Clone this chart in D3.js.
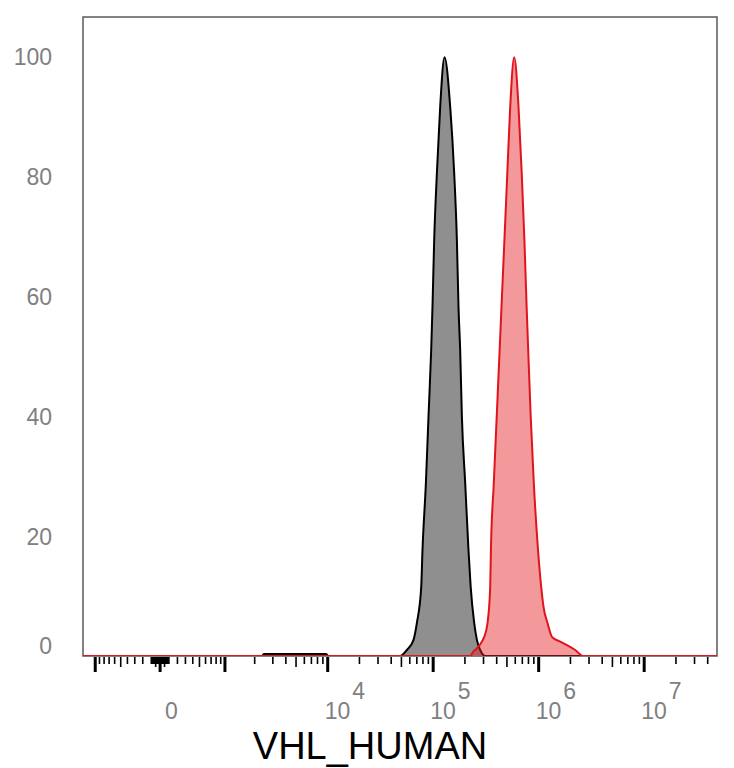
<!DOCTYPE html>
<html>
<head>
<meta charset="utf-8">
<script src="https://cdn.jsdelivr.net/npm/d3@7"></script>
<style>
  html, body { margin: 0; padding: 0; background: #fff; }
  svg { display: block; font-family: "Liberation Sans", Arial, sans-serif; }
</style>
</head>
<body>
<div id="chart"></div>
<script>
"use strict";

/*
 * ============================================================================
 * Data (fluorescence intensity vs % of max)
 * ============================================================================
 */

const AXIS_TITLE = "VHL_HUMAN";

// control (gray)
const grayIntensity = [-1340, 2350, 2470, 9700, 10100, 48600, 56300, 65100, 70000, 77000,
    79200, 85300, 90300, 95700, 98500, 102200, 108400, 116500, 128000, 145000,
    158200, 167800, 173800, 180300, 187100, 201100, 216100, 226800, 244900, 259700,
    279100, 311300, 4.9e7];
const grayPercent = [0, 0, 0.35, 0.35, 0, 0, 1, 2.7, 5.5, 11.5,
    17.7, 28.9, 40, 51, 58.3, 69.4, 80.6, 91.7, 100, 91.7,
    80.6, 69.4, 58.3, 51, 40, 28.9, 17.7, 11.5, 5.5, 2.7,
    1, 0, 0];

// VHL stained (red)
const redIntensity = [-1340, 224300, 239500, 250200, 296000, 304500, 327300, 347100, 352500, 375500,
    400200, 426300, 444200, 473300, 504200, 537200, 586300, 644000, 690700, 732600,
    768700, 795900, 840400, 899000, 985600, 1057000, 1111500, 1213000, 1335000, 1600000,
    1853000, 2221000, 2644000, 4.9e7];
const redPercent = [0, 0, 0.7, 1, 2.7, 3.2, 5.5, 11.5, 17.7, 28.9,
    40, 51, 58.3, 69.4, 80.6, 91.7, 100, 91.7, 80.6, 69.4,
    58.3, 51, 40, 28.9, 17.7, 11.5, 8.2, 5.5, 3.2, 2.4,
    1.8, 1, 0, 0];

// axis ticks and labels
const yTicks = [0, 20, 40, 60, 80, 100];
const xMajorTicks = [-1000, 0, 1000, 1e4, 1e5, 1e6, 1e7];
const xLabelValues = [0, 1e4, 1e5, 1e6, 1e7];
const xLabelBase = ["0", "10", "10", "10", "10"];
const xLabelExp = ["", "4", "5", "6", "7"];


/*
 * ============================================================================
 * Scales
 * ============================================================================
 */

const LEFT = 83, RIGHT = 717, TOP = 17, BOTTOM = 656;
const X_MIN = -1340, X_MAX = 4.9e7;
const BIEX_C = 516;

const biex = v => Math.asinh(v / BIEX_C);
const xLin = d3.scaleLinear()
    .domain([biex(X_MIN), biex(X_MAX)])
    .range([LEFT, RIGHT]);
const x = v => xLin(biex(v));

const y = d3.scaleLinear()
    .domain([0, 106.7])
    .range([BOTTOM, TOP]);

// minor ticks: 1..9 x 10^1, 10^2 near zero, 2..9 x each decade above
function minorTicks() {
    const out = [];
    [10, 100].forEach(d => {
        for (let m = 1; m <= 9; m++) { out.push(m * d); out.push(-m * d); }
    });
    [1e3, 1e4, 1e5, 1e6, 1e7].forEach(d => {
        for (let m = 2; m <= 9; m++) {
            if (m * d <= X_MAX) out.push(m * d);
        }
    });
    return out;
}


/*
 * ============================================================================
 * Draw
 * ============================================================================
 */

const svg = d3.select("#chart")
  .append("svg")
    .attr("width", 734)
    .attr("height", 768);

svg.append("defs")
  .append("clipPath")
    .attr("id", "plot-clip")
  .append("rect")
    .attr("x", LEFT)
    .attr("y", TOP)
    .attr("width", RIGHT - LEFT)
    .attr("height", BOTTOM - TOP);

// frame
svg.append("rect")
    .attr("x", LEFT)
    .attr("y", TOP)
    .attr("width", RIGHT - LEFT)
    .attr("height", BOTTOM - TOP)
    .attr("fill", "none")
    .attr("stroke", "#5a5a5a")
    .attr("stroke-width", 1.5);

// histograms
const area = d3.area()
    .x(d => x(d[0]))
    .y0(y(0))
    .y1(d => y(d[1]))
    .curve(d3.curveMonotoneX);

const line = d3.line()
    .x(d => x(d[0]))
    .y(d => y(d[1]))
    .curve(d3.curveMonotoneX);

const plot = svg.append("g").attr("clip-path", "url(#plot-clip)");

const grayData = d3.zip(grayIntensity, grayPercent);
const redData = d3.zip(redIntensity, redPercent);

plot.append("path")
    .datum(grayData)
    .attr("d", area)
    .attr("fill", "#8f8f8f");
plot.append("path")
    .datum(grayData)
    .attr("d", line)
    .attr("fill", "none")
    .attr("stroke", "#000")
    .attr("stroke-width", 2);

plot.append("path")
    .datum(redData)
    .attr("d", area)
    .attr("fill", "rgb(228, 30, 36)")
    .attr("fill-opacity", 0.46);
plot.append("path")
    .datum(redData)
    .attr("d", line)
    .attr("fill", "none")
    .attr("stroke", "#e0141c")
    .attr("stroke-width", 2);

// x ticks
const ticks = svg.append("g").attr("stroke", "#000");

ticks.selectAll(".minor")
    .data(minorTicks())
  .enter().append("line")
    .attr("class", "minor")
    .attr("x1", d => x(d))
    .attr("x2", d => x(d))
    .attr("y1", BOTTOM + 1)
    .attr("y2", d => BOTTOM + (String(Math.abs(d))[0] === "5" ? 11 : 8))
    .attr("stroke-width", 1.6);

ticks.selectAll(".major")
    .data(xMajorTicks)
  .enter().append("line")
    .attr("class", "major")
    .attr("x1", d => x(d))
    .attr("x2", d => x(d))
    .attr("y1", BOTTOM + 1)
    .attr("y2", BOTTOM + 16)
    .attr("stroke-width", 3);

// x labels
const xLabels = svg.append("g")
    .attr("fill", "#808080")
    .attr("font-size", 23);

xLabelValues.forEach((v, i) => {
    const t = xLabels.append("text")
        .attr("x", x(v) + (xLabelExp[i] ? -3 : 5))
        .attr("y", 719);
    t.append("tspan").text(xLabelBase[i]);
    if (xLabelExp[i]) {
        t.append("tspan")
            .attr("dx", 2)
            .attr("dy", -20)
            .text(xLabelExp[i]);
    }
});

// y labels
svg.append("g")
    .attr("fill", "#808080")
    .attr("font-size", 23)
    .attr("text-anchor", "end")
  .selectAll("text")
    .data(yTicks)
  .enter().append("text")
    .attr("x", 52)
    .attr("y", d => y(d) + (d === 0 ? -10 : 0))
    .attr("dy", "0.36em")
    .text(d => d);

// axis title
svg.append("text")
    .attr("x", 370)
    .attr("y", 759)
    .attr("text-anchor", "middle")
    .attr("font-size", 38)
    .attr("fill", "#000")
    .text(AXIS_TITLE);
</script>
</body>
</html>
